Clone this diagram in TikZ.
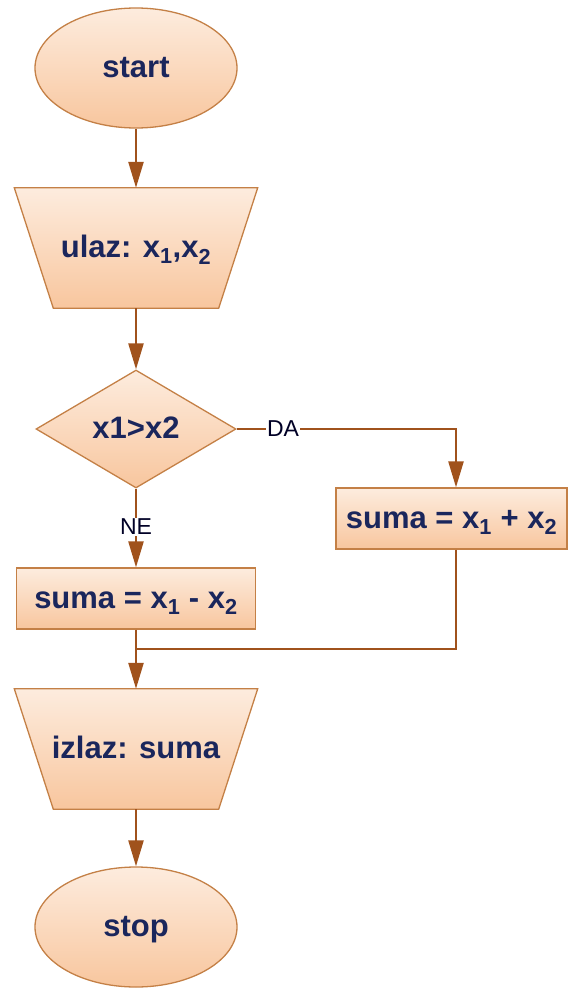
\documentclass[tikz,border=0pt]{standalone}
\usepackage{fontspec}
\setmainfont{Liberation Sans}
\usetikzlibrary{shapes.geometric,arrows.meta,backgrounds}
\definecolor{fillTop}{RGB}{253,236,222}
\definecolor{fillBot}{RGB}{248,198,158}
\definecolor{borderC}{RGB}{196,128,70}
\definecolor{lineC}{RGB}{160,82,28}
\definecolor{textC}{RGB}{26,38,92}
\begin{document}
\begin{tikzpicture}[x=1pt,y=-1pt,
  shp/.style={draw=borderC,line width=1.3pt,top color=fillTop,bottom color=fillBot},
  txt/.style={text=textC,font=\fontsize{31}{34}\selectfont\bfseries,inner sep=0pt,text height=19pt,text depth=0pt},
  term/.style={shp,txt,ellipse,minimum width=202pt,minimum height=120pt},
  dec/.style={shp,txt,diamond,minimum width=200pt,minimum height=118pt,aspect=1.7},
  proc/.style={shp,txt,rectangle,minimum height=61pt},
  iobox/.style={txt,rectangle,minimum width=243pt,minimum height=120pt},
  conn/.style={draw=lineC,line width=2.4pt},
  arr/.style={conn,-{Triangle[length=26pt,width=15pt]}},
  lbl/.style={fill=white,inner sep=1pt,text=black!85!blue,font=\fontsize{23}{25}\selectfont}]
\useasboundingbox (0,0) rectangle (568,988);

\node[term] (start) at (136,68) {start};

\node[iobox] (in) at (136,248) {ulaz: x\textsubscript{1},x\textsubscript{2}};
\begin{scope}[on background layer]
\path[shp] (in.north west) -- (in.north east) -- ([xshift=-39pt]in.south east) -- ([xshift=39pt]in.south west) -- cycle;
\end{scope}

\node[dec] (cond) at (136,429) {x1>x2};

\node[proc,minimum width=231pt] (plus) at (451.5,518.5) {suma = x\textsubscript{1} + x\textsubscript{2}};
\node[proc,minimum width=239pt] (minus) at (136,598.5) {suma = x\textsubscript{1} - x\textsubscript{2}};

\node[iobox] (out) at (136,749) {izlaz: suma};
\begin{scope}[on background layer]
\path[shp] (out.north west) -- (out.north east) -- ([xshift=-39pt]out.south east) -- ([xshift=39pt]out.south west) -- cycle;
\end{scope}

\node[term] (stop) at (136,927) {stop};

\node[lbl] (da) at (283,429) {DA};
\node[lbl] (ne) at (136,527) {NE};
\coordinate (merge) at (136,649);

\draw[arr] (start) -- (in);
\draw[arr] (in) -- (cond);
\draw[conn] (cond.east) -- (da.west);
\draw[arr] (da.east) -| ([xshift=4.5pt]plus.north);
\draw[conn] (cond.south) -- (ne.north);
\draw[arr] (ne.south) -- (minus.north);
\draw[conn] ([xshift=4.5pt]plus.south) |- (merge);
\draw[arr] (minus.south) -- (out.north);
\draw[arr] (out.south) -- (stop.north);
\end{tikzpicture}
\end{document}
